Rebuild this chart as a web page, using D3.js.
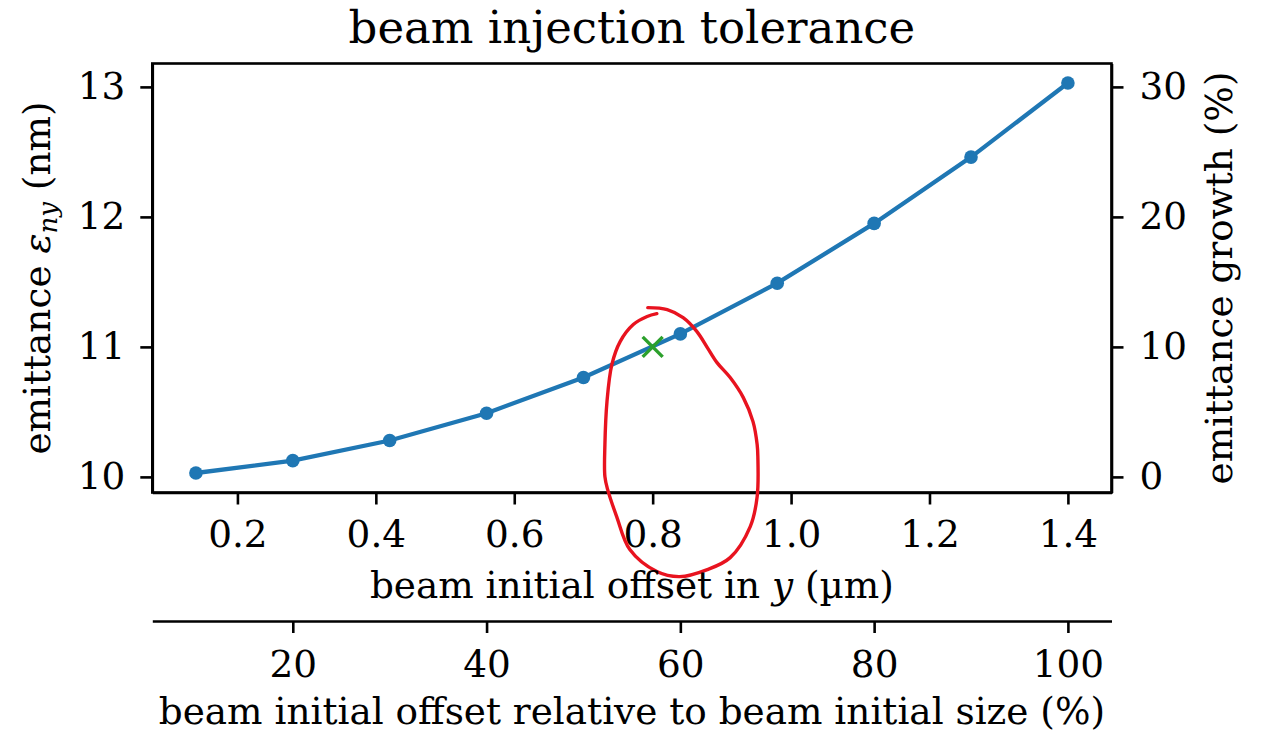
<!doctype html>
<html lang="en">
<head>
<meta charset="UTF-8">
<title>beam injection tolerance</title>
<script src="https://d3js.org/d3.v7.min.js"></script>
<style>
body { margin: 0; background-color: #ffffff; }
svg { display: block; }
text { font-family: "DejaVu Serif", serif; fill: #000000; }
.axis path { stroke: #000000; stroke-width: 2.6; }
.axis line { stroke: #000000; stroke-width: 2.6; }
.axis text { font-family: "DejaVu Serif", serif; font-size: 37.4px; fill: #000000; }
path.series { fill: none; stroke: #1f77b4; stroke-width: 4.3; }
path.scribble { fill: none; stroke: #e8131f; stroke-width: 3.4; stroke-linecap: round; stroke-linejoin: round; }
</style>
</head>
<body>
<div id="plot"></div>
<script>

var width = 1261;
var height = 733;

// beam offset in y (um) and resulting normalised emittance (nm)
var offsets = [0.14, 0.28, 0.42, 0.56, 0.70, 0.84, 0.98, 1.12, 1.26, 1.40];
var emittance = [10.03, 10.125, 10.28, 10.49, 10.765, 11.10, 11.49, 11.95, 12.46, 13.03];

// green cross: tolerance point
var targetOffset = [0.8];
var targetEmittance = [11.0];

// hand drawn red loop, in data units (offset, emittance)
var loopOffset = [0.793, 0.821, 0.844, 0.864, 0.879, 0.893, 0.912, 0.931, 0.945, 0.951, 0.952, 0.951, 0.941, 0.912, 0.879, 0.839, 0.806, 0.767, 0.748, 0.735, 0.731, 0.731, 0.734, 0.741, 0.753, 0.772, 0.792, 0.806];
var loopEmittance = [11.302, 11.287, 11.225, 11.118, 10.995, 10.879, 10.764, 10.610, 10.425, 10.248, 10.156, 9.848, 9.618, 9.379, 9.287, 9.233, 9.272, 9.441, 9.695, 9.902, 10.002, 10.248, 10.579, 10.864, 11.041, 11.172, 11.234, 11.256];

var xTicks = [0.2, 0.4, 0.6, 0.8, 1.0, 1.2, 1.4];
var yTicks = [10, 11, 12, 13];
var growthTicks = [0, 10, 20, 30];
var relTicks = [20, 40, 60, 80, 100];

var plotLeft = 152.3, plotRight = 1111.5, plotTop = 63.5, plotBottom = 492.5;
var relAxisY = 621;

var svg = d3.select("#plot").append("svg")
	.attr("width", width)
	.attr("height", height);

var xScale = d3.scaleLinear().domain([0.077, 1.463]).range([plotLeft, plotRight]);
var yScale = d3.scaleLinear().domain([9.88, 13.18]).range([plotBottom, plotTop]);
// growth relative to 10 nm, and offset relative to beam size 1.4 um
var growthScale = d3.scaleLinear().domain([-1.2, 31.8]).range([plotBottom, plotTop]);
var relScale = d3.scaleLinear().domain([0.077 / 1.4 * 100, 1.463 / 1.4 * 100]).range([plotLeft, plotRight]);

var xAxis = d3.axisBottom(xScale).tickValues(xTicks).tickFormat(d3.format(".1f"))
	.tickSize(12).tickSizeOuter(0).tickPadding(16);
var yAxis = d3.axisLeft(yScale).tickValues(yTicks).tickFormat(d3.format("d"))
	.tickSize(12).tickSizeOuter(0).tickPadding(15);
var growthAxis = d3.axisRight(growthScale).tickValues(growthTicks).tickFormat(d3.format("d"))
	.tickSize(12).tickSizeOuter(0).tickPadding(16);
var relAxis = d3.axisBottom(relScale).tickValues(relTicks).tickFormat(d3.format("d"))
	.tickSize(12).tickSizeOuter(0).tickPadding(17);

svg.append("g").attr("class", "axis")
	.attr("transform", "translate(0," + plotBottom + ")").call(xAxis);
svg.append("g").attr("class", "axis")
	.attr("transform", "translate(" + plotLeft + ",0)").call(yAxis);
svg.append("g").attr("class", "axis")
	.attr("transform", "translate(" + plotRight + ",0)").call(growthAxis);
svg.append("g").attr("class", "axis")
	.attr("transform", "translate(0," + relAxisY + ")").call(relAxis);

svg.selectAll(".axis text").attr("font-family", null).attr("font-size", null);

// frame of the plot
svg.append("rect")
	.attr("x", plotLeft).attr("y", plotTop)
	.attr("width", plotRight - plotLeft).attr("height", plotBottom - plotTop)
	.style("fill", "none").style("stroke", "#000000").style("stroke-width", 2.6);

var points = offsets.map(function (d, i) { return [d, emittance[i]]; });

var line = d3.line()
	.x(function (d) { return xScale(d[0]); })
	.y(function (d) { return yScale(d[1]); });

svg.append("path").attr("class", "series").attr("d", line(points));

svg.selectAll("circle.pt").data(points).enter().append("circle")
	.attr("class", "pt")
	.attr("cx", function (d) { return xScale(d[0]); })
	.attr("cy", function (d) { return yScale(d[1]); })
	.attr("r", 6.8)
	.style("fill", "#1f77b4");

// green x marker
targetOffset.forEach(function (d, i) {
	var cx = xScale(d), cy = yScale(targetEmittance[i]), s = 10;
	svg.append("path")
		.attr("d", "M" + (cx - s) + "," + (cy - s) + "L" + (cx + s) + "," + (cy + s) +
			"M" + (cx - s) + "," + (cy + s) + "L" + (cx + s) + "," + (cy - s))
		.style("stroke", "#2ca02c").style("stroke-width", 3.4).style("fill", "none");
});

// red loop drawn over everything
var loop = loopOffset.map(function (d, i) { return [d, loopEmittance[i]]; });
svg.append("path").attr("class", "scribble")
	.attr("d", line.curve(d3.curveCatmullRom.alpha(0.5))(loop));

// labels
svg.append("text")
	.attr("x", (plotLeft + plotRight) / 2).attr("y", 43)
	.attr("text-anchor", "middle").style("font-size", "45px")
	.text("beam injection tolerance");

var xl = svg.append("text")
	.attr("x", (plotLeft + plotRight) / 2).attr("y", 598)
	.attr("text-anchor", "middle").style("font-size", "37.4px");
xl.append("tspan").text("beam initial offset in ");
xl.append("tspan").style("font-style", "italic").text("y");
xl.append("tspan").text(" (µm)");

svg.append("text")
	.attr("x", (plotLeft + plotRight) / 2).attr("y", 724)
	.attr("text-anchor", "middle").style("font-size", "37.4px")
	.text("beam initial offset relative to beam initial size (%)");

var yl = svg.append("text")
	.attr("transform", "translate(50," + ((plotTop + plotBottom) / 2) + ") rotate(-90)")
	.attr("text-anchor", "middle").style("font-size", "37.4px");
yl.append("tspan").text("emittance ");
yl.append("tspan").style("font-style", "italic").text("ε");
yl.append("tspan").style("font-style", "italic").style("font-size", "26px").attr("dy", 7).text("ny");
yl.append("tspan").attr("dy", -7).text(" (nm)");

svg.append("text")
	.attr("transform", "translate(1232," + ((plotTop + plotBottom) / 2) + ") rotate(-90)")
	.attr("text-anchor", "middle").style("font-size", "37.4px")
	.text("emittance growth (%)");

</script>
</body>
</html>
